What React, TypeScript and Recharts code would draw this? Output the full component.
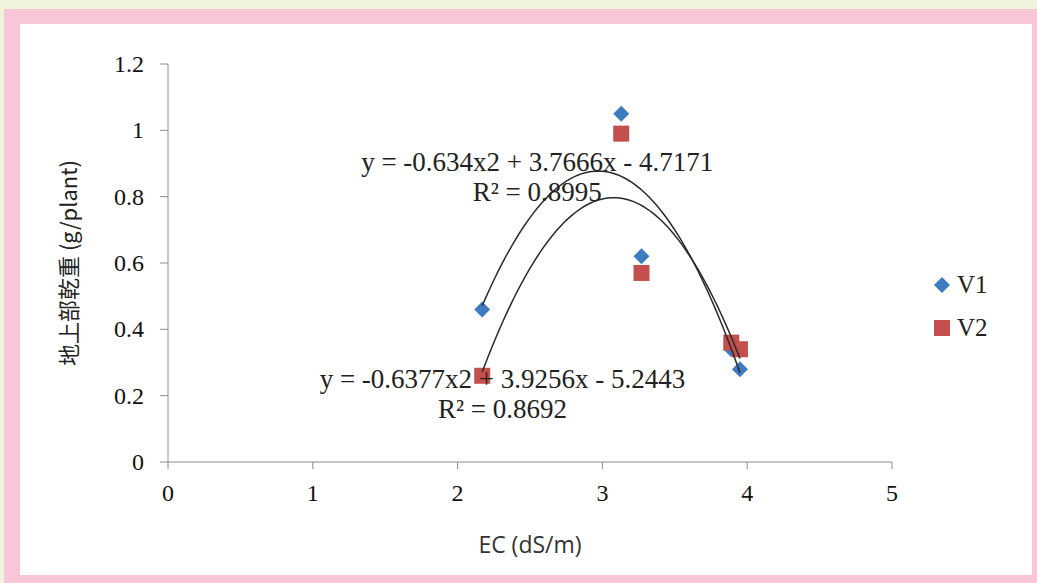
import React from 'react';
import { ScatterChart, Scatter, XAxis, YAxis, ReferenceDot } from 'recharts';

// ---- data ----
const v1X = [2.17, 3.13, 3.27, 3.89, 3.95];
const v1Y = [0.46, 1.05, 0.62, 0.34, 0.28];
const v2X = [2.17, 3.13, 3.27, 3.89, 3.95];
const v2Y = [0.26, 0.99, 0.57, 0.36, 0.34];
const seriesNames = ['V1', 'V2'];
const xTicks = [0, 1, 2, 3, 4, 5];
const yTicks = [0, 0.2, 0.4, 0.6, 0.8, 1, 1.2];
// polynomial trendline coefficients (a, b, c) shown on the chart
const trend1Coef = [-0.634, 3.7666, -4.7171];
const trend2Coef = [-0.6377, 3.9256, -5.2443];
const eq1Text = 'y = -0.634x2 + 3.7666x - 4.7171';
const r1Text = 'R² = 0.8995';
const eq2Text = 'y = -0.6377x2 + 3.9256x - 5.2443';
const r2Text = 'R² = 0.8692';
const xLabel = 'EC (dS/m)';
const yLabel = '地上部乾重 (g/plant)';

const BLUE = '#3D7CC0';
const RED = '#C3504C';
const AXIS = '#8c8c8c';
const SERIF = '"Liberation Serif", "Times New Roman", serif';

const toPoints = (xs: number[], ys: number[]) => xs.map((x, i) => ({ x, y: ys[i] }));
const v1Data = toPoints(v1X, v1Y);
const v2Data = toPoints(v2X, v2Y);

// trendline drawn from its coefficients over the series' x range
const trendCurve = (coef: number[], xs: number[]) => {
  const lo = Math.min(...xs);
  const hi = Math.max(...xs);
  const n = 80;
  const pts: { x: number; y: number }[] = [];
  for (let i = 0; i <= n; i++) {
    const x = lo + ((hi - lo) * i) / n;
    pts.push({ x, y: coef[0] * x * x + coef[1] * x + coef[2] });
  }
  return pts;
};
const trend1 = trendCurve(trend1Coef, v1X);
const trend2 = trendCurve(trend2Coef, v2X);

const Diamond = (props: any) => {
  const { cx, cy } = props;
  const h = 8;
  return <polygon points={`${cx},${cy - h} ${cx + h},${cy} ${cx},${cy + h} ${cx - h},${cy}`} fill={BLUE} />;
};
const Square = (props: any) => {
  const { cx, cy } = props;
  const h = 8;
  return <rect x={cx - h} y={cy - h} width={h * 2} height={h * 2} fill={RED} />;
};

const XTick = (p: any) => (
  <text x={p.x} y={p.y} dy="0.95em" textAnchor="middle" fontFamily={SERIF} fontSize={24} fill="#111">
    {p.payload.value}
  </text>
);
const YTick = (p: any) => (
  <text x={p.x} y={p.y} dy="0.34em" textAnchor="end" fontFamily={SERIF} fontSize={24} fill="#111">
    {p.payload.value}
  </text>
);

const LegendBox = () => (
  <div style={{ position: 'absolute', left: 932, top: 263, fontFamily: SERIF, fontSize: 25, color: '#222' }}>
    {seriesNames.map((name, i) => (
      <div key={name} style={{ display: 'flex', alignItems: 'center', height: 43 }}>
        <svg width={20} height={20} style={{ marginRight: 5 }}>
          {i === 0 ? (
            <polygon points="10,2 18,10 10,18 2,10" fill={BLUE} />
          ) : (
            <rect x={2} y={2} width={16} height={16} fill={RED} />
          )}
        </svg>
        <span>{name}</span>
      </div>
    ))}
  </div>
);

const XLabel = (props: any) => {
  const vb = props.viewBox;
  return (
    <text
      x={vb.x + vb.width / 2}
      y={vb.y + 91}
      textAnchor="middle"
      fontFamily='"Open Sans", sans-serif'
      fontSize={23}
      fill="#333"
    >
      {xLabel}
    </text>
  );
};

const YLabel = (props: any) => {
  const vb = props.viewBox;
  const cx = vb.x + 49;
  const cy = vb.y + vb.height / 2;
  return (
    <text
      x={cx}
      y={cy}
      transform={`rotate(-90 ${cx} ${cy})`}
      textAnchor="middle"
      dominantBaseline="central"
      fontFamily='"Noto Sans CJK TC", "Noto Sans", sans-serif'
      fontSize={22}
      fill="#222"
    >
      {yLabel}
    </text>
  );
};

const eqLabel = (value: string) => ({
  value,
  position: 'center' as const,
  fill: '#222',
  fontSize: 27,
  fontFamily: SERIF,
});

export default function App() {
  return (
    <div style={{ position: 'absolute', left: 0, top: 0, width: 1037, height: 583, background: '#EEF4DE' }}>
      <div style={{ position: 'absolute', left: 4, top: 9, width: 1033, height: 574, background: '#F8C6D6' }} />
      <div style={{ position: 'absolute', left: 20, top: 24, width: 1012, height: 551, background: '#FFFFFF' }} />
      <div style={{ position: 'absolute', left: 0, top: 0 }}>
        <ScatterChart width={1037} height={583} margin={{ top: 64, right: 145, bottom: 21, left: 18 }}>
          <XAxis
            type="number"
            dataKey="x"
            domain={[0, 5]}
            ticks={xTicks}
            allowDataOverflow
            height={100}
            tickSize={7}
            tickMargin={9}
            axisLine={{ stroke: AXIS }}
            tickLine={{ stroke: AXIS }}
            tick={<XTick />}
            label={<XLabel />}
          />
          <YAxis
            type="number"
            dataKey="y"
            domain={[0, 1.2]}
            ticks={yTicks}
            allowDataOverflow
            width={150}
            tickSize={8}
            tickMargin={16}
            axisLine={{ stroke: AXIS }}
            tickLine={{ stroke: AXIS }}
            tick={<YTick />}
            label={<YLabel />}
          />
          <Scatter name="V1" data={v1Data} shape={<Diamond />} isAnimationActive={false} />
          <Scatter name="V2" data={v2Data} shape={<Square />} isAnimationActive={false} />
          <Scatter
            name="trend1"
            data={trend1}
            line={{ stroke: '#2a2a2a', strokeWidth: 1.5 }}
            shape={() => <g />}
            legendType="none"
            isAnimationActive={false}
          />
          <Scatter
            name="trend2"
            data={trend2}
            line={{ stroke: '#2a2a2a', strokeWidth: 1.5 }}
            shape={() => <g />}
            legendType="none"
            isAnimationActive={false}
          />
          <ReferenceDot x={2.55} y={0.905} r={0} fill="none" stroke="none" label={eqLabel(eq1Text)} />
          <ReferenceDot x={2.55} y={0.817} r={0} fill="none" stroke="none" label={eqLabel(r1Text)} />
          <ReferenceDot x={2.31} y={0.253} r={0} fill="none" stroke="none" label={eqLabel(eq2Text)} />
          <ReferenceDot x={2.31} y={0.163} r={0} fill="none" stroke="none" label={eqLabel(r2Text)} />
        </ScatterChart>
      </div>
      <LegendBox />
    </div>
  );
}
